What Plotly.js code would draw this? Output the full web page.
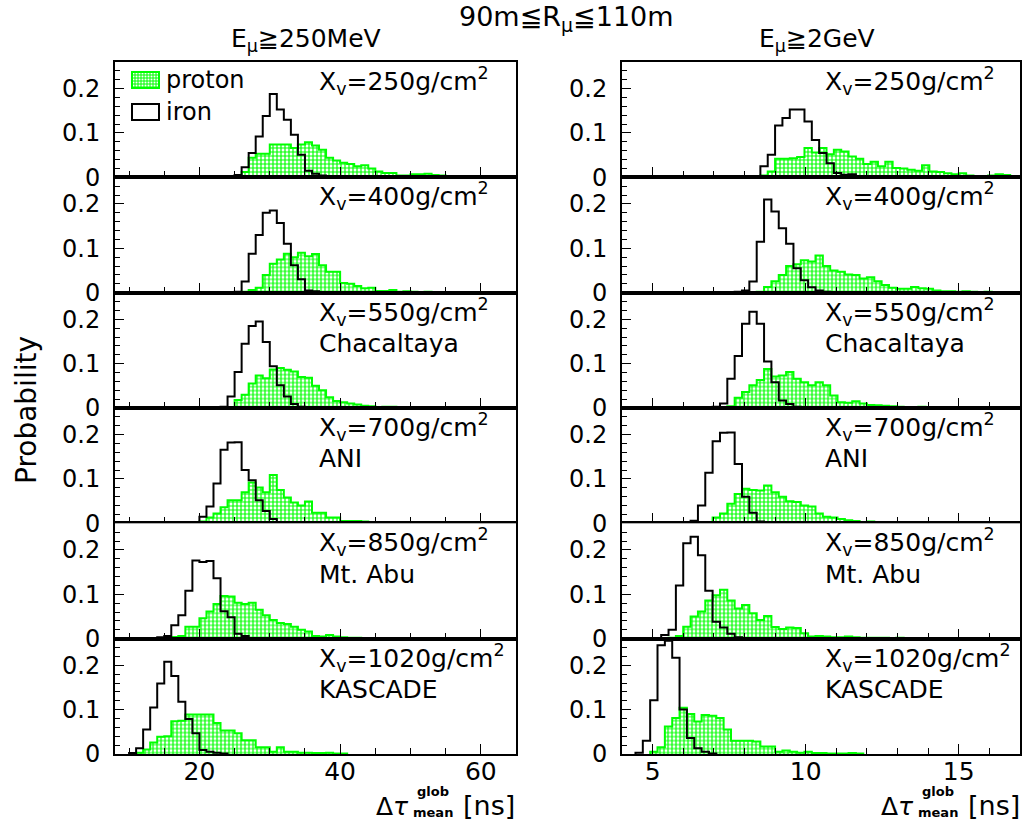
<!DOCTYPE html>
<html>
<head>
<meta charset="utf-8">
<script src="https://cdn.plot.ly/plotly-3.0.1.min.js"></script>
<style>
html,body{margin:0;padding:0;background:#ffffff;}
#chart{width:1024px;height:833px;}
</style>
</head>
<body>
<div id="chart"></div>
<script>
// ---------------- DATA ----------------
// Bin widths of the two histogram families (ns)
const binWidthLow = 1.0;    // E_mu >= 250 MeV column
const binWidthHigh = 0.24;  // E_mu >= 2 GeV column

// Atmospheric depth labels (g/cm^2) and site names per row
const depthValues = ["250", "400", "550", "700", "850", "1020"];
const siteNames = ["", "", "Chacaltaya", "ANI", "Mt. Abu", "KASCADE"];

// Left edge of first bin for each row
const protonLowStart = [25, 26, 24, 20, 16, 11];
const ironLowStart = [25, 25, 23, 19, 14, 10];
const protonHighStart = [8.52, 8.4, 7.2, 6.72, 5.52, 4.92];
const ironHighStart = [8.28, 7.68, 6.96, 6.0, 5.28, 4.44];

// ---- E_mu >= 250 MeV (left column) ----
const protonLow250 = [0.002,0.012,0.044,0.053,0.053,0.074,0.074,0.074,0.066,0.074,0.079,0.072,0.062,0.044,0.038,0.033,0.030,0.025,0.027,0.020,0.013,0.010,0.010,0.004,0.004,0.007,0.007,0.008,0.005,0.004,0.002,0.002,0.003,0.001,0.002,0.001,0.001,0.002,0.001,0.001];
const ironLow250 = [0.005,0.023,0.055,0.092,0.138,0.188,0.153,0.130,0.096,0.051,0.015,0.008,0.004,0.003,0.001];

const protonLow400 = [0.002,0.006,0.011,0.040,0.065,0.075,0.088,0.080,0.090,0.082,0.087,0.062,0.047,0.047,0.022,0.020,0.015,0.010,0.011,0.004,0.004,0.006,0.002,0.003,0.002,0.001,0.002,0.001,0.001,0.001,0.001,0.001];
const ironLow400 = [0.002,0.025,0.088,0.130,0.180,0.185,0.157,0.110,0.062,0.030,0.005,0.003,0.001];

const protonLow550 = [0.002,0.018,0.030,0.055,0.073,0.067,0.087,0.090,0.086,0.082,0.070,0.068,0.050,0.040,0.024,0.016,0.013,0.010,0.008,0.005,0.004,0.002,0.003,0.003,0.002,0.002,0.001,0.001,0.001];
const ironLow550 = [0.003,0.026,0.081,0.145,0.185,0.195,0.149,0.094,0.051,0.026,0.009,0.003,0.001];

const protonLow700 = [0.004,0.013,0.022,0.036,0.052,0.052,0.070,0.092,0.081,0.070,0.109,0.075,0.058,0.047,0.040,0.049,0.024,0.024,0.013,0.013,0.005,0.005,0.005,0.004,0.002,0.002,0.003,0.001,0.001,0.001];
const ironLow700 = [0.002,0.015,0.038,0.090,0.166,0.182,0.183,0.120,0.097,0.052,0.028,0.010,0.003,0.001];

const protonLow850 = [0.004,0.006,0.027,0.027,0.046,0.061,0.078,0.096,0.095,0.081,0.078,0.081,0.065,0.053,0.042,0.035,0.033,0.027,0.020,0.016,0.006,0.005,0.008,0.005,0.003,0.002,0.002,0.001,0.001,0.001,0.001];
const ironLow850 = [0.003,0.006,0.030,0.053,0.108,0.176,0.173,0.175,0.136,0.062,0.048,0.011,0.006,0.001];

const protonLow1020 = [0.003,0.010,0.026,0.039,0.040,0.074,0.075,0.089,0.089,0.089,0.089,0.070,0.053,0.053,0.047,0.031,0.031,0.015,0.015,0.005,0.015,0.005,0.005,0.003,0.003,0.002,0.002,0.003,0.001,0.001];
const ironLow1020 = [0.002,0.013,0.055,0.105,0.159,0.208,0.176,0.118,0.079,0.047,0.009,0.005,0.003,0.001];

// ---- E_mu >= 2 GeV (right column) ----
const protonHigh250 = [0.004,0.013,0.042,0.042,0.043,0.046,0.066,0.056,0.066,0.052,0.062,0.058,0.047,0.042,0.030,0.035,0.025,0.035,0.021,0.020,0.017,0.015,0.027,0.013,0.012,0.009,0.007,0.009,0.004,0.003,0.003,0.004,0.007,0.005,0.003];
const ironHigh250 = [0.002,0.025,0.051,0.117,0.134,0.153,0.153,0.126,0.084,0.055,0.032,0.010,0.006,0.007,0.003];

const protonHigh400 = [0.002,0.013,0.026,0.040,0.060,0.064,0.073,0.070,0.084,0.060,0.050,0.047,0.041,0.040,0.032,0.035,0.026,0.017,0.011,0.009,0.009,0.013,0.010,0.009,0.005,0.003,0.003,0.002,0.003,0.002,0.001,0.002,0.001];
const ironHigh400 = [0.002,0.005,0.025,0.115,0.210,0.183,0.145,0.110,0.055,0.028,0.012,0.005,0.002];

const protonHigh550 = [0.002,0.004,0.023,0.036,0.051,0.063,0.088,0.071,0.073,0.081,0.066,0.058,0.051,0.058,0.051,0.028,0.013,0.012,0.015,0.010,0.007,0.006,0.005,0.004,0.003,0.002,0.002,0.003,0.002,0.001,0.002,0.001,0.002];
const ironHigh550 = [0.003,0.010,0.066,0.117,0.190,0.217,0.190,0.105,0.058,0.017,0.009,0.003,0.001];

const protonHigh700 = [0.003,0.013,0.022,0.044,0.066,0.078,0.075,0.074,0.085,0.070,0.060,0.050,0.048,0.040,0.038,0.022,0.015,0.013,0.010,0.007,0.005,0.003,0.004,0.003,0.002,0.003,0.002,0.002,0.001,0.002];
const ironHigh700 = [0.002,0.006,0.040,0.114,0.185,0.204,0.205,0.134,0.060,0.024,0.004,0.001];

const protonHigh850 = [0.002,0.006,0.027,0.050,0.061,0.086,0.098,0.110,0.086,0.068,0.076,0.057,0.042,0.051,0.026,0.022,0.025,0.024,0.012,0.005,0.006,0.005,0.003,0.003,0.005,0.003,0.002,0.002,0.002,0.002,0.001,0.002,0.001,0.001];
const ironHigh850 = [0.008,0.020,0.120,0.215,0.230,0.188,0.108,0.038,0.025,0.011,0.003,0.001];

const protonHigh1020 = [0.005,0.015,0.062,0.081,0.104,0.090,0.073,0.088,0.086,0.081,0.055,0.030,0.030,0.030,0.028,0.017,0.017,0.005,0.008,0.005,0.003,0.005,0.002,0.002,0.001,0.001,0.001,0.002,0.001];
const ironHigh1020 = [0.003,0.030,0.121,0.245,0.255,0.217,0.100,0.036,0.013,0.005,0.001];

const protonLow = [protonLow250, protonLow400, protonLow550, protonLow700, protonLow850, protonLow1020];
const ironLow = [ironLow250, ironLow400, ironLow550, ironLow700, ironLow850, ironLow1020];
const protonHigh = [protonHigh250, protonHigh400, protonHigh550, protonHigh700, protonHigh850, protonHigh1020];
const ironHigh = [ironHigh250, ironHigh400, ironHigh550, ironHigh700, ironHigh850, ironHigh1020];

// ---------------- LAYOUT GEOMETRY ----------------
const W = 1024, H = 833;
const FONT = "DejaVu Sans";
const colPx = [[115, 516], [622, 1020]];
const xRanges = [[8, 65], [4, 17]];
const rowTop = 62, rowH = 115.33;
const GREEN = "#00ff00";
function px(x) { return x / W; }
function py(y) { return 1 - y / H; }

function stepXY(start, width, heights) {
  const xs = [start], ys = [0];
  for (let i = 0; i < heights.length; i++) { xs.push(start + i * width); ys.push(heights[i]); }
  xs.push(start + heights.length * width); ys.push(0);
  return { xs, ys };
}

const traces = [];
const layout = {
  width: W, height: H,
  margin: { l: 0, r: 0, t: 0, b: 0, pad: 0 },
  paper_bgcolor: "#ffffff", plot_bgcolor: "#ffffff",
  showlegend: false,
  font: { family: FONT, color: "#000000", size: 22 },
  annotations: [], shapes: []
};

for (let c = 0; c < 2; c++) {
  for (let r = 0; r < 6; r++) {
    const idx = c * 6 + r + 1;
    const xa = "x" + (idx === 1 ? "" : idx), ya = "y" + (idx === 1 ? "" : idx);
    const top = rowTop + r * rowH, bot = top + rowH;
    const pro = c === 0 ? stepXY(protonLowStart[r], binWidthLow, protonLow[r]) : stepXY(protonHighStart[r], binWidthHigh, protonHigh[r]);
    const iro = c === 0 ? stepXY(ironLowStart[r], binWidthLow, ironLow[r]) : stepXY(ironHighStart[r], binWidthHigh, ironHigh[r]);
    traces.push({
      type: "scatter", mode: "lines", x: pro.xs, y: pro.ys, xaxis: xa, yaxis: ya,
      line: { shape: "hv", color: GREEN, width: 2 },
      fill: "tozeroy", fillcolor: "rgba(255,255,255,0)",
      fillpattern: { shape: "+", fgcolor: GREEN, bgcolor: "#ffffff", size: 4, solidity: 0.5 },
      hoverinfo: "skip"
    });
    traces.push({
      type: "scatter", mode: "lines", x: iro.xs, y: iro.ys, xaxis: xa, yaxis: ya,
      line: { shape: "hv", color: "#000000", width: 2 }, hoverinfo: "skip"
    });
    const xName = "xaxis" + (idx === 1 ? "" : idx), yName = "yaxis" + (idx === 1 ? "" : idx);
    layout[xName] = {
      domain: [px(colPx[c][0]), px(colPx[c][1])], anchor: ya,
      range: xRanges[c], showgrid: false, zeroline: false,
      showline: true, mirror: true, linecolor: "#000000", linewidth: 2,
      ticks: "inside", ticklen: 10, tickwidth: 1, tickcolor: "#000000",
      tickmode: "linear", tick0: 0, dtick: c === 0 ? 20 : 5,
      minor: { ticks: "inside", ticklen: 6, tickwidth: 1, tickcolor: "#000000", dtick: c === 0 ? 5 : 1, tick0: 0, showgrid: false },
      showticklabels: r === 5, tickfont: { family: FONT, size: 25, color: "#000000" },
      ticklabelstandoff: -6
    };
    layout[yName] = {
      domain: [py(bot), py(top)], anchor: xa,
      range: [0, 0.26], showgrid: false, zeroline: false,
      showline: true, mirror: true, linecolor: "#000000", linewidth: 2,
      ticks: "inside", ticklen: 9, tickwidth: 1, tickcolor: "#000000",
      tickmode: "linear", tick0: 0, dtick: 0.1,
      minor: { ticks: "inside", ticklen: 4.5, tickwidth: 1, tickcolor: "#000000", dtick: 0.02, tick0: 0, showgrid: false },
      tickfont: { family: FONT, size: 24, color: "#000000" },
      ticklabelstandoff: 8
    };
    // panel labels
    const lx = c === 0 ? 317 : 823;
    layout.annotations.push({
      xref: "paper", yref: "paper", x: px(lx), y: py(top + 19), xanchor: "left", yanchor: "middle",
      text: "X<sub>v</sub>=" + depthValues[r] + "g/cm<sup>2</sup>", showarrow: false,
      font: { family: FONT, size: 25, color: "#000000" }
    });
    if (siteNames[r]) {
      layout.annotations.push({
        xref: "paper", yref: "paper", x: px(lx), y: py(top + 51), xanchor: "left", yanchor: "middle",
        text: siteNames[r], showarrow: false, font: { family: FONT, size: 25, color: "#000000" }
      });
    }
  }
  // x axis title pieces
  const dx = c === 0 ? 0 : 505;
  layout.annotations.push({ xref: "paper", yref: "paper", x: px(374 + dx), y: py(806), xanchor: "left", yanchor: "middle",
    text: "Δ<i>τ</i>", showarrow: false, font: { family: FONT, size: 25, color: "#000000" } });
  layout.annotations.push({ xref: "paper", yref: "paper", x: px(433 + dx), y: py(791), xanchor: "center", yanchor: "middle",
    text: "<b>glob</b>", showarrow: false, font: { family: FONT, size: 13, color: "#000000" } });
  layout.annotations.push({ xref: "paper", yref: "paper", x: px(433 + dx), y: py(812), xanchor: "center", yanchor: "middle",
    text: "<b>mean</b>", showarrow: false, font: { family: FONT, size: 13, color: "#000000" } });
  layout.annotations.push({ xref: "paper", yref: "paper", x: px(517 + dx), y: py(805), xanchor: "right", yanchor: "middle",
    text: "[ns]", showarrow: false, font: { family: FONT, size: 27, color: "#000000" } });
}

// Titles
layout.annotations.push({ xref: "paper", yref: "paper", x: px(566), y: py(18), xanchor: "center", yanchor: "middle",
  text: "90m≦R<sub>μ</sub>≦110m", showarrow: false, font: { family: FONT, size: 27, color: "#000000" } });
layout.annotations.push({ xref: "paper", yref: "paper", x: px(306), y: py(40), xanchor: "center", yanchor: "middle",
  text: "E<sub>μ</sub>≧250MeV", showarrow: false, font: { family: FONT, size: 25, color: "#000000" } });
layout.annotations.push({ xref: "paper", yref: "paper", x: px(817), y: py(40), xanchor: "center", yanchor: "middle",
  text: "E<sub>μ</sub>≧2GeV", showarrow: false, font: { family: FONT, size: 25, color: "#000000" } });
layout.annotations.push({ xref: "paper", yref: "paper", x: px(27), y: py(410), xanchor: "center", yanchor: "middle",
  text: "Probability", textangle: -90, showarrow: false, font: { family: FONT, size: 28, color: "#000000" } });

// Legend (drawn in the first panel)
const legBox = { x0: 132, x1: 159 };
const legRows = [{ y0: 72, y1: 88, label: "proton" }, { y0: 104, y1: 120, label: "iron" }];
// proton swatch: hatched green box
for (let gx = legBox.x0 + 3; gx < legBox.x1; gx += 3) {
  layout.shapes.push({ type: "line", xref: "paper", yref: "paper", x0: px(gx), x1: px(gx), y0: py(legRows[0].y0), y1: py(legRows[0].y1), line: { color: GREEN, width: 1 } });
}
for (let gy = legRows[0].y0 + 3; gy < legRows[0].y1; gy += 3) {
  layout.shapes.push({ type: "line", xref: "paper", yref: "paper", x0: px(legBox.x0), x1: px(legBox.x1), y0: py(gy), y1: py(gy), line: { color: GREEN, width: 1 } });
}
layout.shapes.push({ type: "rect", xref: "paper", yref: "paper", x0: px(legBox.x0), x1: px(legBox.x1), y0: py(legRows[0].y1), y1: py(legRows[0].y0), line: { color: GREEN, width: 2 } });
layout.shapes.push({ type: "rect", xref: "paper", yref: "paper", x0: px(legBox.x0), x1: px(legBox.x1), y0: py(legRows[1].y1), y1: py(legRows[1].y0), line: { color: "#000000", width: 2 } });
legRows.forEach(function (lr) {
  layout.annotations.push({ xref: "paper", yref: "paper", x: px(164), y: py((lr.y0 + lr.y1) / 2), xanchor: "left", yanchor: "middle",
    text: lr.label, showarrow: false, font: { family: FONT, size: 24, color: "#000000" } });
});

Plotly.newPlot("chart", traces, layout, { displayModeBar: false, staticPlot: true });
</script>
</body>
</html>
